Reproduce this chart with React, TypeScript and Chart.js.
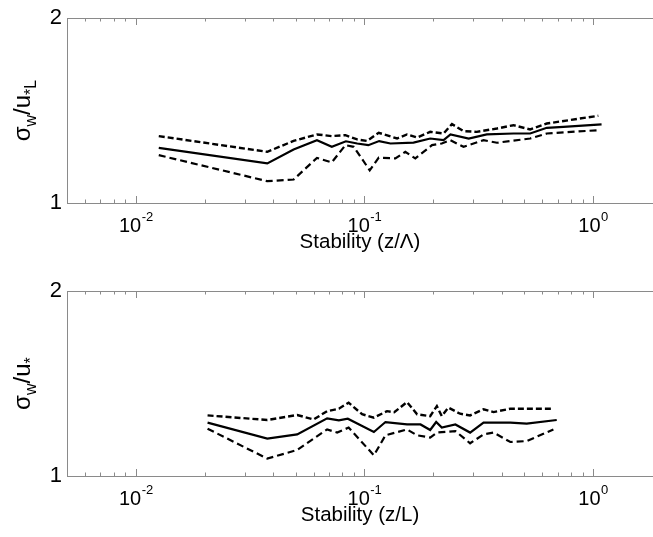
import React, { useEffect, useRef } from 'react';
import { Chart, registerables } from 'chart.js';

Chart.register(...registerables);

// ---------- Data: top panel (z/Λ) ----------
const TOP_MEAN_X = [0.0126, 0.0376, 0.049, 0.062, 0.072, 0.083, 0.093, 0.104, 0.116, 0.13, 0.164, 0.194, 0.222, 0.238, 0.286, 0.343, 0.449, 0.531, 0.628, 0.742, 1.09];
const TOP_MEAN_Y = [1.298, 1.214, 1.29, 1.34, 1.304, 1.334, 1.322, 1.313, 1.335, 1.322, 1.327, 1.349, 1.34, 1.371, 1.349, 1.371, 1.376, 1.376, 1.407, 1.412, 1.425];
const TOP_UPPER_X = [0.0126, 0.0376, 0.049, 0.062, 0.072, 0.0826, 0.093, 0.1027, 0.1155, 0.139, 0.1535, 0.17, 0.194, 0.222, 0.2415, 0.2715, 0.31, 0.38, 0.449, 0.531, 0.628, 1.055];
const TOP_UPPER_Y = [1.362, 1.277, 1.336, 1.371, 1.362, 1.367, 1.344, 1.336, 1.38, 1.349, 1.371, 1.354, 1.385, 1.376, 1.427, 1.389, 1.385, 1.403, 1.421, 1.398, 1.43, 1.472];
const TOP_LOWER_X = [0.0126, 0.0376, 0.049, 0.062, 0.072, 0.0826, 0.0898, 0.1055, 0.1155, 0.1366, 0.151, 0.167, 0.1975, 0.218, 0.2375, 0.2715, 0.332, 0.38, 0.531, 0.628, 1.055];
const TOP_LOWER_Y = [1.259, 1.118, 1.127, 1.244, 1.22, 1.313, 1.304, 1.177, 1.246, 1.241, 1.277, 1.241, 1.313, 1.322, 1.34, 1.304, 1.34, 1.326, 1.349, 1.376, 1.394];

// ---------- Data: bottom panel (z/L) ----------
const BOT_MEAN_X = [0.0206, 0.0376, 0.0508, 0.0687, 0.0773, 0.0846, 0.11, 0.1236, 0.1536, 0.176, 0.194, 0.206, 0.218, 0.25, 0.29, 0.332, 0.435, 0.513, 0.694];
const BOT_MEAN_Y = [1.289, 1.202, 1.225, 1.312, 1.301, 1.31, 1.238, 1.292, 1.279, 1.279, 1.249, 1.292, 1.262, 1.279, 1.235, 1.289, 1.289, 1.283, 1.303];
const BOT_UPPER_X = [0.0206, 0.0376, 0.0508, 0.06, 0.0687, 0.0773, 0.0853, 0.0977, 0.11, 0.1256, 0.135, 0.1536, 0.17, 0.194, 0.2075, 0.218, 0.233, 0.262, 0.29, 0.332, 0.367, 0.435, 0.513, 0.671];
const BOT_UPPER_Y = [1.328, 1.303, 1.33, 1.306, 1.351, 1.364, 1.397, 1.334, 1.316, 1.351, 1.345, 1.4, 1.334, 1.324, 1.378, 1.324, 1.37, 1.337, 1.328, 1.361, 1.346, 1.364, 1.364, 1.364];
const BOT_LOWER_X = [0.0206, 0.0376, 0.0508, 0.0687, 0.076, 0.0853, 0.11, 0.1236, 0.1536, 0.17, 0.194, 0.2075, 0.25, 0.29, 0.332, 0.367, 0.435, 0.513, 0.671];
const BOT_LOWER_Y = [1.256, 1.094, 1.141, 1.252, 1.235, 1.262, 1.112, 1.22, 1.252, 1.22, 1.208, 1.235, 1.243, 1.177, 1.225, 1.235, 1.184, 1.189, 1.252];

// ---------- Axes ----------
const X_MIN = 0.005;
const X_MAX = 1.83;
const Y_MIN = 1;
const Y_MAX = 2;
const MAJOR_TICKS = [0.01, 0.1, 1];
const MAJOR_EXPONENTS = ['-2', '-1', '0'];
const MINOR_TICKS = [0.005, 0.006, 0.007, 0.008, 0.009, 0.02, 0.03, 0.04, 0.05, 0.06, 0.07, 0.08, 0.09, 0.2, 0.3, 0.4, 0.5, 0.6, 0.7, 0.8, 0.9];

const FONT = '"Liberation Sans", Arial, Helvetica, sans-serif';
const AXIS_COLOR = '#8a8a8a';

type Part = { text: string; size: number; dy: number };

const TOP_YTITLE: Part[] = [
  { text: 'σ', size: 24, dy: 0 },
  { text: 'w', size: 16, dy: 6 },
  { text: '/u', size: 24, dy: 0 },
  { text: '*L', size: 16, dy: 6 },
];
const BOT_YTITLE: Part[] = [
  { text: 'σ', size: 24, dy: 0 },
  { text: 'w', size: 16, dy: 6 },
  { text: '/u', size: 24, dy: 0 },
  { text: '*', size: 16, dy: 6 },
];

function pts(xs: number[], ys: number[]) {
  return xs.map((x, i) => ({ x, y: ys[i] }));
}

const axesPlugin = {
  id: 'matlabAxes',
  afterDraw(chart: any) {
    const { ctx, chartArea } = chart;
    const { left, right, top, bottom } = chartArea;
    const xs = chart.scales.x;
    const parts: Part[] = chart.options.plugins.matlabAxes.ytitle;
    ctx.save();
    ctx.strokeStyle = AXIS_COLOR;
    ctx.lineWidth = 1;
    ctx.beginPath();
    ctx.moveTo(left + 0.5, top);
    ctx.lineTo(left + 0.5, bottom + 1);
    ctx.moveTo(left, Math.round(bottom) + 0.5);
    ctx.lineTo(right, Math.round(bottom) + 0.5);
    ctx.moveTo(left, Math.round(top) + 0.5);
    ctx.lineTo(right, Math.round(top) + 0.5);
    const tick = (v: number, len: number) => {
      const px = Math.round(xs.getPixelForValue(v)) + 0.5;
      if (px < left || px > right) return;
      ctx.moveTo(px, Math.round(bottom));
      ctx.lineTo(px, Math.round(bottom) - len);
      ctx.moveTo(px, Math.round(top));
      ctx.lineTo(px, Math.round(top) + len);
    };
    MINOR_TICKS.forEach((v) => tick(v, 3.5));
    MAJOR_TICKS.forEach((v) => tick(v, 7));
    ctx.stroke();

    // x tick labels with superscript
    ctx.fillStyle = '#000';
    ctx.textBaseline = 'alphabetic';
    ctx.textAlign = 'left';
    MAJOR_TICKS.forEach((v, i) => {
      const px = xs.getPixelForValue(v);
      ctx.font = `20px ${FONT}`;
      const w1 = ctx.measureText('10').width;
      ctx.font = `13px ${FONT}`;
      const w2 = ctx.measureText(MAJOR_EXPONENTS[i]).width;
      const start = px - (w1 + w2) / 2;
      ctx.font = `20px ${FONT}`;
      ctx.fillText('10', start, bottom + 29);
      ctx.font = `13px ${FONT}`;
      ctx.fillText(MAJOR_EXPONENTS[i], start + w1 + 0.5, bottom + 18);
    });

    // rotated y title with subscripts
    let total = 0;
    parts.forEach((p) => {
      ctx.font = `${p.size}px ${FONT}`;
      total += ctx.measureText(p.text).width;
    });
    ctx.translate(30, (top + bottom) / 2);
    ctx.rotate(-Math.PI / 2);
    let cx = -total / 2;
    parts.forEach((p) => {
      ctx.font = `${p.size}px ${FONT}`;
      ctx.fillText(p.text, cx, p.dy);
      cx += ctx.measureText(p.text).width;
    });
    ctx.restore();
  },
};

function makeConfig(
  mean: { x: number; y: number }[],
  upper: { x: number; y: number }[],
  lower: { x: number; y: number }[],
  xTitle: string,
  ytitle: Part[]
): any {
  return {
    type: 'line',
    data: {
      datasets: [
        { data: upper, borderColor: '#000', borderWidth: 2.4, borderDash: [6, 3], pointRadius: 0, tension: 0, fill: false },
        { data: mean, borderColor: '#000', borderWidth: 2.2, pointRadius: 0, tension: 0, fill: false },
        { data: lower, borderColor: '#000', borderWidth: 2.2, borderDash: [7, 4], pointRadius: 0, tension: 0, fill: false },
      ],
    },
    options: {
      responsive: false,
      animation: false,
      devicePixelRatio: 1,
      layout: { padding: { top: 18, left: 0, right: 0, bottom: 0 } },
      plugins: {
        legend: { display: false },
        tooltip: { enabled: false },
        matlabAxes: { ytitle },
      },
      scales: {
        x: {
          type: 'logarithmic',
          min: X_MIN,
          max: X_MAX,
          ticks: { display: false },
          grid: { display: false, drawTicks: false },
          border: { display: false },
          title: {
            display: true,
            text: xTitle,
            color: '#000',
            font: { family: FONT, size: 20.5 },
            padding: { top: 0, bottom: 13 },
          },
          afterFit: (s: any) => {
            s.height = 65;
          },
        },
        y: {
          type: 'linear',
          min: Y_MIN,
          max: Y_MAX,
          ticks: {
            stepSize: 1,
            color: '#000',
            padding: 5,
            font: { family: FONT, size: 22 },
            callback: (v: any) => String(v),
          },
          grid: { display: false, drawTicks: false },
          border: { display: false },
          afterFit: (s: any) => {
            s.width = 67;
          },
        },
      },
    },
    plugins: [axesPlugin],
  };
}

export default function App() {
  const topRef = useRef<HTMLCanvasElement>(null);
  const botRef = useRef<HTMLCanvasElement>(null);

  useEffect(() => {
    document.body.style.margin = '0';
    document.body.style.overflow = 'hidden';
    const c1 = new Chart(
      topRef.current!,
      makeConfig(pts(TOP_MEAN_X, TOP_MEAN_Y), pts(TOP_UPPER_X, TOP_UPPER_Y), pts(TOP_LOWER_X, TOP_LOWER_Y), 'Stability (z/Λ)', TOP_YTITLE)
    );
    const c2 = new Chart(
      botRef.current!,
      makeConfig(pts(BOT_MEAN_X, BOT_MEAN_Y), pts(BOT_UPPER_X, BOT_UPPER_Y), pts(BOT_LOWER_X, BOT_LOWER_Y), 'Stability (z/L)', BOT_YTITLE)
    );
    return () => {
      c1.destroy();
      c2.destroy();
    };
  }, []);

  return (
    <div style={{ position: 'fixed', left: 0, top: 0, width: 653, height: 537, overflow: 'hidden', background: '#fff' }}>
      <canvas ref={topRef} width={653} height={268} style={{ position: 'absolute', left: 0, top: 0 }} />
      <canvas ref={botRef} width={653} height={268} style={{ position: 'absolute', left: 0, top: 273 }} />
    </div>
  );
}
